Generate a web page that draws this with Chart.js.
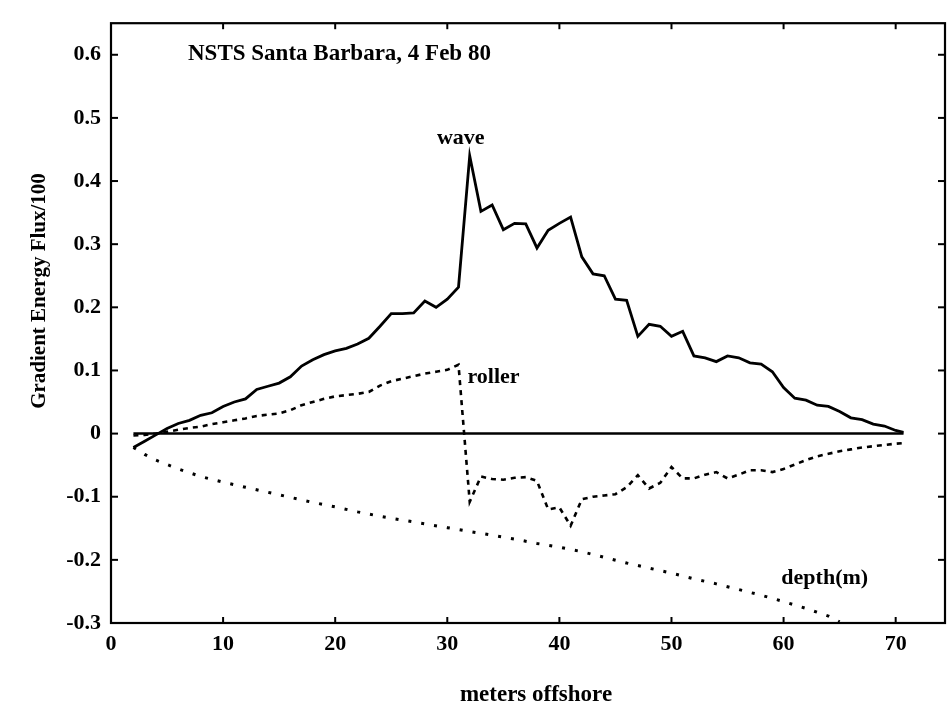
<!DOCTYPE html>
<html><head><meta charset="utf-8">
<script src="https://cdn.jsdelivr.net/npm/chart.js@4"></script>
<style>html,body{margin:0;padding:0;background:#fff}#wrap{width:947px;height:706px}</style>
</head><body><div id="wrap"><canvas id="c" width="947" height="706"></canvas></div>
<script>
// ---- data ----
const xTickValues = [0, 10, 20, 30, 40, 50, 60, 70];
const yTickValues = [-0.3, -0.2, -0.1, 0, 0.1, 0.2, 0.3, 0.4, 0.5, 0.6];

const waveX = [2,3,4,5,6,7,8,9,10,11,12,13,14,15,16,17,18,19,20,21,22,23,24,25,26,27,28,29,30,31,32,33,34,35,36,37,38,39,40,41,42,43,44,45,46,47,48,49,50,51,52,53,54,55,56,57,58,59,60,61,62,63,64,65,66,67,68,69,70,70.7];
const waveY = [-0.022,-0.012,-0.002,0.008,0.016,0.021,0.029,0.033,0.043,0.05,0.055,0.07,0.075,0.08,0.09,0.107,0.117,0.125,0.131,0.135,0.142,0.151,0.17,0.19,0.19,0.191,0.21,0.2,0.213,0.232,0.44,0.352,0.362,0.323,0.333,0.332,0.294,0.322,0.333,0.343,0.28,0.253,0.25,0.213,0.211,0.154,0.173,0.17,0.154,0.162,0.123,0.12,0.114,0.123,0.12,0.112,0.11,0.098,0.073,0.056,0.053,0.045,0.043,0.035,0.025,0.022,0.015,0.012,0.005,0.002];

const rollerX = [2,3,4,5,6,7,8,9,10,11,12,13,14,15,16,17,18,19,20,21,22,23,24,25,26,27,28,29,30,31,32,33,34,35,36,37,38,39,40,41,42,43,44,45,46,47,48,49,50,51,52,53,54,55,56,57,58,59,60,61,62,63,64,65,66,67,68,69,70,70.7];
const rollerY = [-0.003,-0.002,0.0,0.003,0.006,0.009,0.011,0.015,0.018,0.021,0.024,0.028,0.03,0.032,0.037,0.045,0.05,0.055,0.059,0.061,0.063,0.066,0.076,0.083,0.087,0.091,0.095,0.098,0.101,0.109,-0.108,-0.068,-0.072,-0.073,-0.07,-0.069,-0.075,-0.12,-0.117,-0.146,-0.104,-0.1,-0.098,-0.096,-0.085,-0.066,-0.087,-0.078,-0.053,-0.071,-0.071,-0.065,-0.061,-0.071,-0.065,-0.058,-0.058,-0.061,-0.056,-0.049,-0.042,-0.036,-0.032,-0.028,-0.025,-0.022,-0.02,-0.018,-0.016,-0.015];

const depthX = [2,3,4,6,8,10,12,14,16,18,20,22,24,26,28,30,32,34,36,38,40,42,44,46,48,50,52,54,56,58,60,62,64,65];
const depthY = [-0.022,-0.033,-0.042,-0.056,-0.068,-0.077,-0.085,-0.093,-0.101,-0.109,-0.116,-0.124,-0.131,-0.137,-0.143,-0.149,-0.155,-0.161,-0.167,-0.174,-0.18,-0.187,-0.196,-0.205,-0.213,-0.221,-0.23,-0.238,-0.247,-0.256,-0.266,-0.277,-0.289,-0.298];

const zeroX = [2, 70.7];
const zeroY = [0, 0];

const pts = (xs, ys) => xs.map((x, i) => ({x: x, y: ys[i]}));

const FONT = '"Liberation Serif", "Times New Roman", serif';

const annotations = [
  {text: 'NSTS Santa Barbara, 4 Feb 80', x: 6.87, y: 0.601, align: 'left', size: 23},
  {text: 'wave', x: 31.2, y: 0.467, align: 'center', size: 22},
  {text: 'roller', x: 31.8, y: 0.089, align: 'left', size: 22},
  {text: 'depth(m)', x: 59.8, y: -0.229, align: 'left', size: 22}
];

const framePlugin = {
  id: 'frame',
  afterDraw(chart) {
    const {ctx, chartArea: a, scales: {x, y}} = chart;
    ctx.save();
    ctx.strokeStyle = '#000';
    ctx.lineWidth = 2.2;
    ctx.strokeRect(a.left, a.top, a.right - a.left, a.bottom - a.top);
    ctx.lineWidth = 2;
    const seg = (x1, y1, x2, y2) => { ctx.beginPath(); ctx.moveTo(x1, y1); ctx.lineTo(x2, y2); ctx.stroke(); };
    x.ticks.forEach(t => {
      const px = x.getPixelForValue(t.value);
      seg(px, a.bottom, px, a.bottom - 6);
      seg(px, a.top, px, a.top + 6);
    });
    y.ticks.forEach(t => {
      const py = y.getPixelForValue(t.value);
      seg(a.left, py, a.left + 7, py);
      seg(a.right, py, a.right - 7, py);
    });
    ctx.fillStyle = '#000';
    ctx.textBaseline = 'middle';
    annotations.forEach(an => {
      ctx.font = 'bold ' + an.size + 'px ' + FONT;
      ctx.textAlign = an.align;
      ctx.fillText(an.text, x.getPixelForValue(an.x), y.getPixelForValue(an.y));
    });
    // axis titles
    ctx.font = 'bold 23px ' + FONT;
    ctx.textAlign = 'center';
    ctx.fillText('meters offshore', (a.left + a.right) / 2 + 8, 695);
    ctx.save();
    ctx.translate(40, 291);
    ctx.rotate(-Math.PI / 2);
    ctx.font = 'bold 21px ' + FONT;
    ctx.fillText('Gradient Energy Flux/100', 0, 0);
    ctx.restore();
    ctx.restore();
  }
};

new Chart(document.getElementById('c'), {
  type: 'line',
  data: {
    datasets: [
      {label: 'zero', data: pts(zeroX, zeroY), borderColor: '#000', borderWidth: 2.5, pointRadius: 0},
      {label: 'wave', data: pts(waveX, waveY), borderColor: '#000', borderWidth: 2.8, pointRadius: 0, tension: 0},
      {label: 'roller', data: pts(rollerX, rollerY), borderColor: '#000', borderWidth: 2.6, borderDash: [5, 5], pointRadius: 0, tension: 0},
      {label: 'depth(m)', data: pts(depthX, depthY), borderColor: '#000', borderWidth: 3, borderDash: [3, 10], pointRadius: 0, tension: 0}
    ]
  },
  options: {
    responsive: false,
    devicePixelRatio: 1,
    animation: false,
    layout: {padding: {left: 0, right: 2, top: 14, bottom: 0}},
    plugins: {legend: {display: false}, tooltip: {enabled: false}},
    scales: {
      x: {
        type: 'linear', min: 0, max: 74.4,
        afterBuildTicks: s => { s.ticks = xTickValues.map(v => ({value: v})); },
        afterFit: s => { s.height = 83; },
        grid: {display: false, drawTicks: false},
        border: {display: false},
        ticks: {color: '#000', padding: 8, maxRotation: 0, font: {family: FONT, size: 22, weight: 'bold'}, callback: v => String(v)}
      },
      y: {
        type: 'linear', min: -0.3, max: 0.65,
        afterBuildTicks: s => { s.ticks = yTickValues.map(v => ({value: v})); },
        afterFit: s => { s.width = 111; },
        grid: {display: false, drawTicks: false},
        border: {display: false},
        ticks: {color: '#000', padding: 10, font: {family: FONT, size: 22, weight: 'bold'}, callback: v => String(v)}
      }
    }
  },
  plugins: [framePlugin]
});
</script>
</body></html>
